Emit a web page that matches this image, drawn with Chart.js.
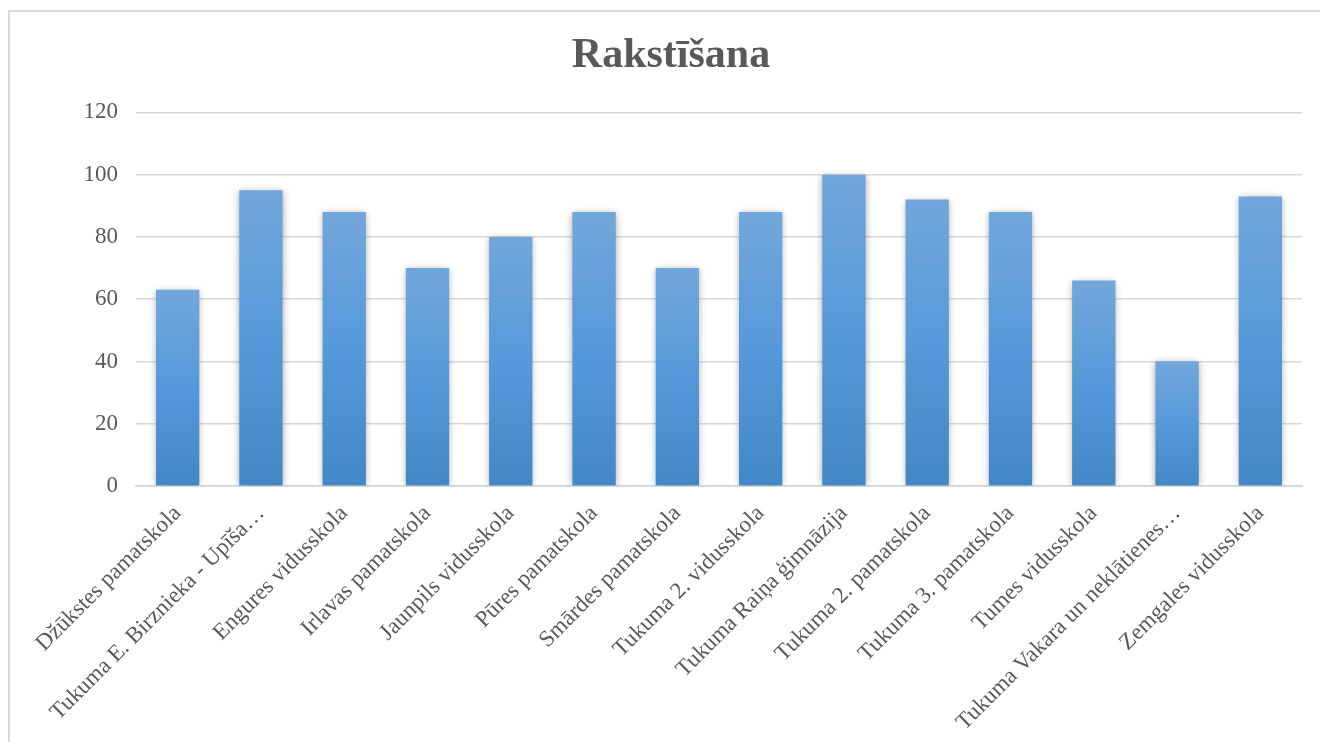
<!DOCTYPE html>
<html lang="lv">
<head>
  <meta charset="UTF-8" />
  <title>Rakstīšana</title>
  <script src="https://cdn.jsdelivr.net/npm/chart.js"></script>
  <style>
    html, body { margin: 0; padding: 0; background: #fff; overflow: hidden; }
    .frame {
      position: absolute;
      left: 8px;
      top: 10px;
      width: 1400px;
      height: 800px;
      border: 2px solid #d9d9d9;
    }
    #wrap {
      position: absolute;
      left: 0;
      top: 0;
      width: 1320px;
      height: 742px;
    }
  </style>
</head>
<body>
  <div class="frame"></div>
  <div id="wrap"><canvas id="chart"></canvas></div>

<script>
  const schools = [
    "Džūkstes pamatskola",
    "Tukuma E. Birznieka - Upīša…",
    "Engures vidusskola",
    "Irlavas pamatskola",
    "Jaunpils vidusskola",
    "Pūres pamatskola",
    "Smārdes pamatskola",
    "Tukuma 2. vidusskola",
    "Tukuma Raiņa ģimnāzija",
    "Tukuma 2. pamatskola",
    "Tukuma 3. pamatskola",
    "Tumes vidusskola",
    "Tukuma Vakara un neklātienes…",
    "Zemgales vidusskola"
  ];
  const scores = [63, 95, 88, 70, 80, 88, 70, 88, 100, 92, 88, 66, 40, 93];
  const yTicks = [0, 20, 40, 60, 80, 100, 120];

  const serif = "'Liberation Serif', 'Times New Roman', serif";
  const grey = "#595959";

  // gradient per bar, lighter on top
  function barFill(c) {
    const chart = c.chart;
    const area = chart.chartArea;
    if (!area || c.parsed == null) return "#5b9bd5";
    const y = chart.scales.y;
    const top = y.getPixelForValue(c.parsed.y);
    const bottom = y.getPixelForValue(0);
    const g = chart.ctx.createLinearGradient(0, top, 0, bottom);
    g.addColorStop(0, "#72a7db");
    g.addColorStop(0.5, "#5699da");
    g.addColorStop(1, "#4287c6");
    return g;
  }

  const barShadow = {
    id: "barShadow",
    beforeDatasetsDraw(chart) {
      const ctx = chart.ctx;
      ctx.save();
      ctx.shadowColor = "rgba(0,0,0,0.35)";
      ctx.shadowBlur = 7;
      ctx.shadowOffsetX = 0;
      ctx.shadowOffsetY = 1;
    },
    afterDatasetsDraw(chart) {
      chart.ctx.restore();
    }
  };

  new Chart(document.getElementById("chart"), {
    type: "bar",
    data: {
      labels: schools,
      datasets: [{
        data: scores,
        backgroundColor: barFill,
        categoryPercentage: 1,
        barPercentage: 0.52
      }]
    },
    plugins: [barShadow],
    options: {
      responsive: true,
      maintainAspectRatio: false,
      animation: false,
      layout: { padding: { left: 40, right: 18, top: 0, bottom: 0 } },
      plugins: {
        legend: { display: false },
        tooltip: { enabled: false },
        title: {
          display: true,
          text: "Rakstīšana",
          color: grey,
          font: { family: serif, size: 42, weight: "bold" },
          padding: { top: 31, bottom: 31 }
        }
      },
      scales: {
        y: {
          min: 0,
          max: 120,
          afterBuildTicks: s => { s.ticks = yTicks.map(v => ({ value: v })); },
          afterFit: s => { s.width = 96; },
          border: { display: false },
          grid: { color: "#d9d9d9", lineWidth: 1.5, drawTicks: false },
          ticks: {
            color: grey,
            padding: 18,
            font: { family: serif, size: 23 }
          }
        },
        x: {
          afterFit: s => { s.height = 256; },
          border: { color: "#d9d9d9", width: 2 },
          grid: { display: false, drawTicks: false },
          ticks: {
            color: grey,
            padding: 14,
            autoSkip: false,
            minRotation: 45,
            maxRotation: 45,
            font: { family: serif, size: 23 }
          }
        }
      }
    }
  });
</script>
</body>
</html>
